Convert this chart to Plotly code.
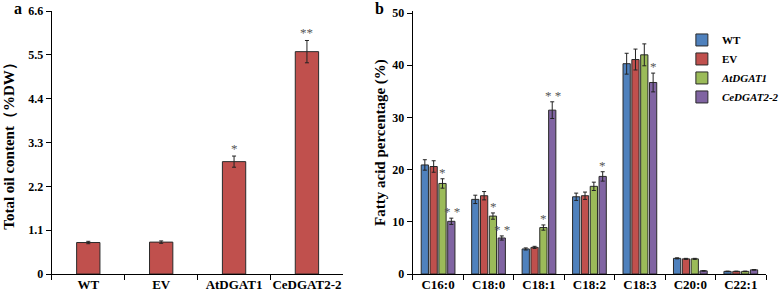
import plotly.graph_objects as go

# ---------- data ----------
lines_a = ["WT", "EV", "AtDGAT1", "CeDGAT2-2"]
oil_content = [0.79, 0.80, 2.82, 5.58]
oil_err = [0.03, 0.03, 0.14, 0.28]
oil_sig = ["", "", "*", "**"]
oil_ticks = [0, 1.1, 2.2, 3.3, 4.4, 5.5, 6.6]

fatty_acids = ["C16:0", "C18:0", "C18:1", "C18:2", "C18:3", "C20:0", "C22:1"]
series_names = ["WT", "EV", "AtDGAT1", "CeDGAT2-2"]
series_labels = ["WT", "EV", "<i>AtDGAT1</i>", "<i>CeDGAT2-2</i>"]
wt_vals = [20.9, 14.3, 4.8, 14.8, 40.3, 3.0, 0.5]
ev_vals = [20.6, 15.0, 5.1, 15.0, 41.1, 2.9, 0.5]
at_vals = [17.35, 11.1, 8.9, 16.8, 42.0, 2.9, 0.5]
ce_vals = [10.1, 6.9, 31.4, 18.7, 36.7, 0.6, 0.8]
wt_err = [1.0, 0.8, 0.2, 0.7, 2.0, 0.1, 0.05]
ev_err = [1.1, 0.8, 0.2, 0.7, 2.0, 0.1, 0.05]
at_err = [0.9, 0.6, 0.5, 0.8, 2.1, 0.1, 0.05]
ce_err = [0.6, 0.4, 1.6, 0.9, 1.8, 0.05, 0.05]
wt_sig = ["", "", "", "", "", "", ""]
ev_sig = ["", "", "", "", "", "", ""]
at_sig = ["*", "*", "*", "", "", "", ""]
ce_sig = ["* *", "* *", "* *", "*", "*", "", ""]
fa_ticks = [0, 10, 20, 30, 40, 50]

series_vals = [wt_vals, ev_vals, at_vals, ce_vals]
series_err = [wt_err, ev_err, at_err, ce_err]
series_sig = [wt_sig, ev_sig, at_sig, ce_sig]
series_colors = ["#4F81BD", "#C0504D", "#9BBB59", "#8064A2"]

# ---------- layout constants ----------
W, H = 784, 297
MT, MB = 11, 23
dom_a = [53 / W, 351 / W]
dom_b = [422 / W, 783 / W]
BARGAP = 0.30
SERIF = "Liberation Serif, Times New Roman, serif"
tick_font = dict(family=SERIF, size=13, color="black", weight="bold")

fig = go.Figure()

# panel a
fig.add_trace(go.Bar(
    x=lines_a, y=oil_content, xaxis="x", yaxis="y",
    marker=dict(color="#C0504D", line=dict(color="#2a2a2a", width=1)),
    width=0.32,
    error_y=dict(type="data", array=oil_err, color="#222", thickness=1, width=2),
    showlegend=False,
))

# panel b
for name, lab, vals, errs, col in zip(series_names, series_labels, series_vals, series_err, series_colors):
    fig.add_trace(go.Bar(
        x=fatty_acids, y=vals, name=lab, xaxis="x2", yaxis="y2",
        marker=dict(color=col, line=dict(color="#2a2a2a", width=1)),
        error_y=dict(type="data", array=errs, color="#222", thickness=1, width=2),
    ))

annotations = []
star_font = dict(family=SERIF, size=13, color="#555555")
for cat, v, e, s in zip(lines_a, oil_content, oil_err, oil_sig):
    if s:
        annotations.append(dict(x=cat, y=v + e, xref="x", yref="y", text=s,
                                showarrow=False, yanchor="bottom", font=star_font, yshift=-2))

# grouped-bar offsets in pixels (derived from axis size and bargap)
cat_px = (dom_b[1] - dom_b[0]) * W / len(fatty_acids)
slot_px = cat_px * (1 - BARGAP) / len(series_names)
for i, (vals, errs, sigs) in enumerate(zip(series_vals, series_err, series_sig)):
    shift = (i - (len(series_names) - 1) / 2) * slot_px
    for cat, v, e, s in zip(fatty_acids, vals, errs, sigs):
        if s:
            annotations.append(dict(x=cat, y=v + e, xref="x2", yref="y2", text=s,
                                    showarrow=False, yanchor="bottom", xshift=shift,
                                    font=star_font, yshift=-3))

annotations += [
    dict(x=12 / W, y=1.01, xref="paper", yref="paper", text="<b>a</b>", showarrow=False,
         xanchor="left", yanchor="middle", font=dict(family=SERIF, size=16, color="black")),
    dict(x=381 / W, y=1.01, xref="paper", yref="paper", text="<b>b</b>", showarrow=False,
         xanchor="left", yanchor="middle", font=dict(family=SERIF, size=16, color="black")),
]

axis_common = dict(showline=True, linecolor="black", linewidth=1.3, showgrid=False,
                   zeroline=False, ticks="outside", tickcolor="black", ticklen=5,
                   tickwidth=1.3, automargin=False)

fig.update_layout(
    width=W, height=H,
    margin=dict(l=0, r=0, t=MT, b=MB),
    plot_bgcolor="white", paper_bgcolor="white",
    barmode="group", bargap=BARGAP, bargroupgap=0.18,
    xaxis=dict(domain=dom_a, anchor="y", type="category", tickson="boundaries", tickangle=0,
               tickfont=tick_font, ticklabelstandoff=-2, **axis_common),
    yaxis=dict(domain=[0, 1], anchor="x", range=[0, 6.6], tickvals=oil_ticks,
               ticktext=[("%g" % t) for t in oil_ticks],
               tickfont=dict(family=SERIF, size=12, color="black", weight="bold"),
               title=dict(text="<b>Total oil content（%DW）</b>", standoff=10,
                          font=dict(family=SERIF, size=15, color="black")),
               **axis_common),
    xaxis2=dict(domain=dom_b, anchor="y2", type="category", tickson="boundaries", tickangle=0,
                tickfont=tick_font, ticklabelstandoff=-2, **axis_common),
    yaxis2=dict(domain=[0, 1], anchor="x2", range=[0, 50.4], tickvals=fa_ticks,
                tickfont=dict(family=SERIF, size=12, color="black", weight="bold"),
                title=dict(text="<b>Fatty acid percentage (%)</b>", standoff=3,
                           font=dict(family=SERIF, size=15, color="black")),
                **axis_common),
    legend=dict(x=697 / W, y=0.945, xanchor="left", yanchor="top", bgcolor="rgba(0,0,0,0)",
                font=dict(family=SERIF, size=11, color="black", weight="bold"),
                tracegroupgap=0, itemwidth=30),
    annotations=annotations,
)

fig.write_html("out.html", config={"displayModeBar": False},
               post_script="document.body.style.margin='0px';")
